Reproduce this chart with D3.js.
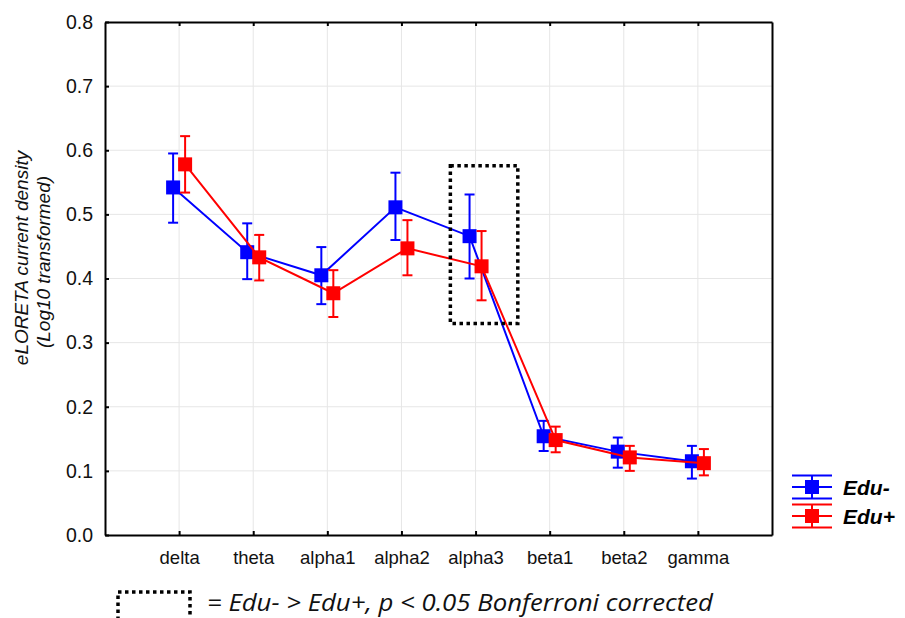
<!DOCTYPE html>
<html>
<head>
<meta charset="utf-8">
<script src="https://d3js.org/d3.v7.min.js"></script>
<style>
  body { margin: 0; background: #fff; }
  text { font-family: "Liberation Sans", Arial, sans-serif; }
</style>
</head>
<body>
<div id="vis"></div>
<script>
// bands, means and error bar limits
const bands = ['delta', 'theta', 'alpha1', 'alpha2', 'alpha3', 'beta1', 'beta2', 'gamma'];
const eduMinus = [0.542, 0.441, 0.405, 0.511, 0.466, 0.154, 0.130, 0.115];
const eduMinusLo = [0.487, 0.399, 0.360, 0.460, 0.400, 0.131, 0.105, 0.088];
const eduMinusHi = [0.595, 0.486, 0.449, 0.565, 0.531, 0.178, 0.152, 0.139];
const eduPlus = [0.578, 0.433, 0.377, 0.447, 0.419, 0.148, 0.121, 0.112];
const eduPlusLo = [0.534, 0.397, 0.340, 0.405, 0.366, 0.129, 0.100, 0.093];
const eduPlusHi = [0.622, 0.468, 0.413, 0.491, 0.474, 0.169, 0.139, 0.134];
const yTicks = [0, 0.1, 0.2, 0.3, 0.4, 0.5, 0.6, 0.7, 0.8];
// significance box around alpha3 (x in category units, y in data units)
const sigBox = { x0: 3.66, x1: 4.57, y0: 0.330, y1: 0.576 };

const W = 905, H = 618;
const pLeft = 105, pRight = 772, pTop = 22, pBottom = 535;

const svg = d3.select('#vis').append('svg').attr('width', W).attr('height', H);

const x = d3.scaleLinear().domain([-1, bands.length]).range([pLeft, pRight]);
const y = d3.scaleLinear().domain([0, 0.8]).range([pBottom, pTop]);

// grid
svg.append('g').selectAll('line').data(yTicks.slice(1, -1)).join('line')
    .attr('x1', pLeft).attr('x2', pRight)
    .attr('y1', d => y(d)).attr('y2', d => y(d))
    .attr('stroke', '#e6e6e6').attr('stroke-width', 1);
svg.append('g').selectAll('line').data(bands).join('line')
    .attr('x1', (d, i) => x(i)).attr('x2', (d, i) => x(i))
    .attr('y1', pTop).attr('y2', pBottom)
    .attr('stroke', '#e6e6e6').attr('stroke-width', 1);

// axes
let yAxis = d3.axisLeft(y).tickValues(yTicks).tickFormat(d3.format('.1f')).tickSizeInner(-4).tickSizeOuter(0).tickPadding(12);
svg.append('g').attr('transform', `translate(${pLeft},0)`).call(yAxis)
    .call(g => g.select('.domain').attr('stroke-width', 2))
    .call(g => g.selectAll('.tick line').attr('stroke-width', 2))
    .call(g => g.selectAll('text').attr('font-size', 19.5).attr('fill', '#111'));

let xAxis = d3.axisBottom(x).tickValues(d3.range(bands.length)).tickFormat(i => bands[i]).tickSizeInner(-4).tickSizeOuter(0).tickPadding(16);
svg.append('g').attr('transform', `translate(0,${pBottom})`).call(xAxis)
    .call(g => g.select('.domain').attr('stroke-width', 2))
    .call(g => g.selectAll('.tick line').attr('stroke-width', 2))
    .call(g => g.selectAll('text').attr('font-size', 18.5).attr('fill', '#111'));

svg.append('g').attr('transform', `translate(0,${pTop})`)
    .call(d3.axisTop(x).tickValues(d3.range(bands.length)).tickFormat('').tickSizeInner(-4).tickSizeOuter(0))
    .call(g => g.select('.domain').attr('stroke-width', 2))
    .call(g => g.selectAll('.tick line').attr('stroke-width', 2));
svg.append('g').attr('transform', `translate(${pRight},0)`)
    .call(d3.axisRight(y).tickValues([]).tickSizeOuter(0))
    .call(g => g.select('.domain').attr('stroke-width', 2));

// y label
svg.append('text')
    .attr('transform', `translate(28,258) rotate(-90)`)
    .attr('text-anchor', 'middle').attr('font-size', 19).attr('font-style', 'italic').attr('fill', '#111')
    .text('eLORETA current density');
svg.append('text')
    .attr('transform', `translate(50,262) rotate(-90)`)
    .attr('text-anchor', 'middle').attr('font-size', 19).attr('font-style', 'italic').attr('fill', '#111')
    .text('(Log10 transformed)');

// series
const series = [
    { name: 'Edu-', color: '#0000ff', dx: -6, mean: eduMinus, lo: eduMinusLo, hi: eduMinusHi },
    { name: 'Edu+', color: '#ff0000', dx: 6, mean: eduPlus, lo: eduPlusLo, hi: eduPlusHi }
];
const sq = 14, cap = 5;
const line = d3.line().x(d => d[0]).y(d => d[1]);

series.forEach(s => {
    let g = svg.append('g');
    let pts = s.mean.map((v, i) => [x(i) + s.dx, y(v)]);
    g.append('path').attr('d', line(pts)).attr('fill', 'none').attr('stroke', s.color).attr('stroke-width', 2);
    let eb = g.selectAll('.eb').data(s.mean).join('g').attr('class', 'eb');
    eb.append('line')
        .attr('x1', (d, i) => x(i) + s.dx).attr('x2', (d, i) => x(i) + s.dx)
        .attr('y1', (d, i) => y(s.lo[i])).attr('y2', (d, i) => y(s.hi[i]))
        .attr('stroke', s.color).attr('stroke-width', 2);
    ['lo', 'hi'].forEach(k => {
        eb.append('line')
            .attr('x1', (d, i) => x(i) + s.dx - cap).attr('x2', (d, i) => x(i) + s.dx + cap)
            .attr('y1', (d, i) => y(s[k][i])).attr('y2', (d, i) => y(s[k][i]))
            .attr('stroke', s.color).attr('stroke-width', 2);
    });
    eb.append('rect')
        .attr('x', (d, i) => x(i) + s.dx - sq / 2).attr('y', d => y(d) - sq / 2)
        .attr('width', sq).attr('height', sq).attr('fill', s.color);
});

// significance box
svg.append('rect')
    .attr('x', x(sigBox.x0)).attr('y', y(sigBox.y1))
    .attr('width', x(sigBox.x1) - x(sigBox.x0)).attr('height', y(sigBox.y0) - y(sigBox.y1))
    .attr('fill', 'none').attr('stroke', '#000').attr('stroke-width', 3.5).attr('stroke-dasharray', '3.5,3.5');

// legend
let lg = svg.append('g').attr('transform', 'translate(792,487)');
series.forEach((s, k) => {
    let gy = k * 29;
    let g = lg.append('g').attr('transform', `translate(0,${gy})`);
    [-11.5, 0, 11.5].forEach(o => g.append('line').attr('x1', 0).attr('x2', 40).attr('y1', o).attr('y2', o)
        .attr('stroke', s.color).attr('stroke-width', 2));
    g.append('line').attr('x1', 20).attr('x2', 20).attr('y1', -11.5).attr('y2', 11.5).attr('stroke', s.color).attr('stroke-width', 2);
    g.append('rect').attr('x', 20 - sq / 2).attr('y', -sq / 2).attr('width', sq).attr('height', sq).attr('fill', s.color);
    g.append('text').attr('x', 51).attr('y', 8).attr('font-size', 21).attr('font-weight', 'bold').attr('font-style', 'italic')
        .attr('fill', '#000').text(s.name);
});

// caption
svg.append('rect').attr('x', 118).attr('y', 592).attr('width', 72).attr('height', 40)
    .attr('fill', 'none').attr('stroke', '#000').attr('stroke-width', 3.5).attr('stroke-dasharray', '3.5,3.5');
svg.append('text').attr('x', 207).attr('y', 611).attr('font-size', 23).attr('font-style', 'italic')
    .style('font-family', '"Open Sans", sans-serif').attr('fill', '#111')
    .attr('textLength', 506).attr('lengthAdjust', 'spacingAndGlyphs')
    .text('= Edu- > Edu+, p < 0.05 Bonferroni corrected');
</script>
</body>
</html>
